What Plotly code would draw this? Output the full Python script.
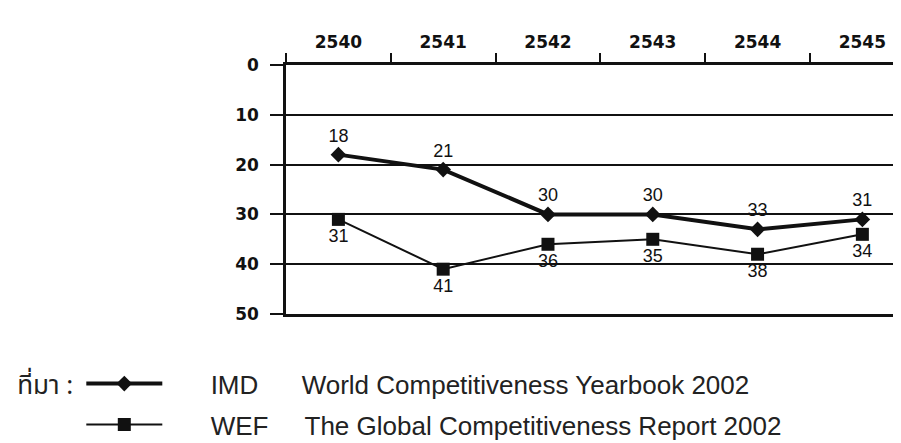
import plotly.graph_objects as go

years = ["2540", "2541", "2542", "2543", "2544", "2545"]
imd_rank = [18, 21, 30, 30, 33, 31]
wef_rank = [31, 41, 36, 35, 38, 34]
y_ticks = [0, 10, 20, 30, 40, 50]

lead = "&nbsp;" * 6
imd_name = lead + "IMD" + "&nbsp;" * 6 + "World Competitiveness Yearbook 2002"
wef_name = lead + "WEF" + "&nbsp;" * 5 + "The Global Competitiveness Report 2002"
legend_title = "ที่มา :"

INK = "#111111"

fig = go.Figure()
fig.add_trace(go.Scatter(
    x=years, y=imd_rank, name=imd_name, legendgroup="imd",
    mode="lines+markers+text",
    line=dict(color=INK, width=4),
    marker=dict(symbol="diamond", size=12, color=INK),
    text=[str(v) for v in imd_rank], textposition="top center",
    textfont=dict(family="Liberation Sans, Arial", size=18, color=INK),
))
fig.add_trace(go.Scatter(
    x=years, y=wef_rank, name=wef_name, legendgroup="wef",
    mode="lines+markers+text",
    line=dict(color=INK, width=2),
    marker=dict(symbol="square", size=13, color=INK),
    text=[str(v) for v in wef_rank], textposition="bottom center",
    textfont=dict(family="Liberation Sans, Arial", size=18, color=INK),
))

fig.update_layout(
    width=901, height=443,
    margin=dict(l=278, r=0, t=57, b=137, autoexpand=False),
    paper_bgcolor="white", plot_bgcolor="white",
    showlegend=True,
    legend=dict(
        xref="container", yref="container", x=0.008, y=0.205,
        xanchor="left", yanchor="top",
        traceorder="grouped", tracegroupgap=4,
        itemwidth=76,
        font=dict(family="Liberation Sans, Arial", size=26, color="#222222"),
        title=dict(text=legend_title, side="left",
                   font=dict(family="Noto Sans Thai, Loma, Garuda, Liberation Sans, sans-serif", size=26, color="#222222")),
        bgcolor="rgba(0,0,0,0)",
    ),
    xaxis=dict(
        type="category", side="top", range=[-0.5, 5.445],
        tickson="boundaries", ticks="outside", ticklen=9, tickwidth=2, tickcolor=INK,
        showline=True, linewidth=2.5, linecolor=INK, mirror=True,
        showgrid=False, zeroline=False, tickangle=0, ticklabelstandoff=7,
        tickfont=dict(family="DejaVu Sans", size=17, color=INK, weight="bold"),
    ),
    yaxis=dict(
        range=[50, 0], tickvals=y_ticks,
        ticks="outside", ticklen=13, tickwidth=1.5, tickcolor=INK,
        showline=True, linewidth=2.5, linecolor=INK,
        showgrid=True, gridcolor=INK, gridwidth=1.5, zeroline=False,
        ticklabelstandoff=8,
        tickfont=dict(family="DejaVu Sans", size=17, color=INK, weight="bold"),
    ),
)

fig.write_html("out.html")
